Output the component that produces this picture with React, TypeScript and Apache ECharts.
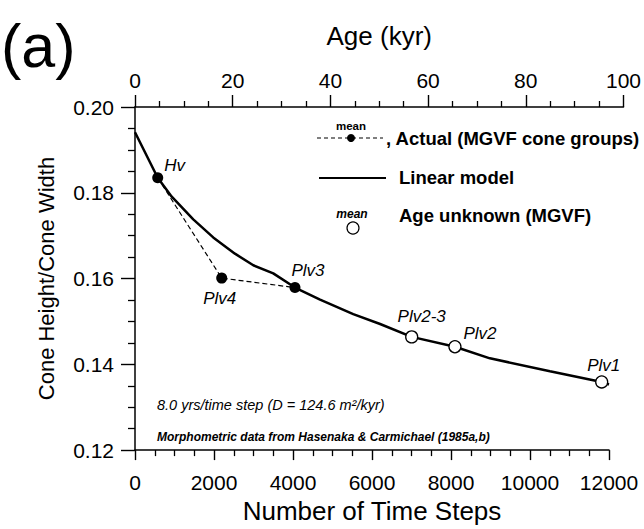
import React, { useEffect, useRef } from "react";
import * as echarts from "echarts";

const FONT = "'Liberation Sans', Arial, Helvetica, sans-serif";

// Linear model curve (number of time steps -> cone height / cone width)
const modelSteps = [0, 575, 930, 1475, 1980, 2530, 2995, 3500, 4050, 4685, 5525, 6205, 7005, 8100, 8985, 10505, 11815, 12000];
const modelValues = [0.1941, 0.1835, 0.1791, 0.1738, 0.1696, 0.1658, 0.1631, 0.1612, 0.1579, 0.1551, 0.1517, 0.1494, 0.1464, 0.1441, 0.1414, 0.1384, 0.1359, 0.1353];

// Actual (MGVF cone groups), mean values
const actualNames = ["Hv", "Plv4", "Plv3"];
const actualSteps = [575, 2195, 4050];
const actualValues = [0.1835, 0.1601, 0.1579];

// Age unknown (MGVF), mean values
const unknownNames = ["Plv2-3", "Plv2", "Plv1"];
const unknownSteps = [7005, 8100, 11815];
const unknownValues = [0.1464, 0.1441, 0.1359];

// Axes
const stepTicks = [0, 2000, 4000, 6000, 8000, 10000, 12000];
const ageTicks = [0, 20, 40, 60, 80, 100];
const ratioTicks = [0.12, 0.14, 0.16, 0.18, 0.2];

// label placement (pixel offsets from the symbol centre)
const labelOffsets: Record<string, [number, number]> = {
  Hv: [17, -12],
  Plv4: [-2, 20],
  Plv3: [13, -17],
  "Plv2-3": [10, -20],
  Plv2: [25, -13],
  Plv1: [2, -16],
};

const GRID_LEFT = 135;
const GRID_TOP = 107;
const GRID_W = 474;
const GRID_H = 350;
const STEPS_MAX = stepTicks[stepTicks.length - 1];
const AGE_MAX = ageTicks[ageTicks.length - 1];
const YRS_PER_STEP = 8.0;
const AGE_W = (GRID_W * (AGE_MAX * 1000)) / YRS_PER_STEP / STEPS_MAX;

const black = "#000";

function pointLabel(name: string) {
  return {
    show: true,
    position: "inside",
    formatter: name,
    offset: labelOffsets[name],
    fontSize: 17,
    fontStyle: "italic",
    fontFamily: FONT,
    color: black,
  };
}

export default function App() {
  const ref = useRef<HTMLDivElement>(null);

  useEffect(() => {
    if (!ref.current) return;
    const chart = echarts.init(ref.current, undefined, { renderer: "svg" });

    const axisLineStyle = { color: black, width: 1.5 };
    const plain = (v: number) => String(v);

    const option: any = {
      animation: false,
      backgroundColor: "#fff",
      textStyle: { fontFamily: FONT, color: black },
      grid: [
        { left: GRID_LEFT, top: GRID_TOP, width: GRID_W, height: GRID_H },
        { left: GRID_LEFT, top: GRID_TOP, width: AGE_W, height: GRID_H },
      ],
      xAxis: [
        {
          type: "value",
          gridIndex: 0,
          position: "bottom",
          min: stepTicks[0],
          max: STEPS_MAX,
          interval: stepTicks[1] - stepTicks[0],
          axisLine: { show: true, onZero: false, lineStyle: axisLineStyle },
          axisTick: { show: true, inside: false, length: 10, lineStyle: { color: black, width: 1.4 } },
          minorTick: { show: true, splitNumber: 4, length: 6, lineStyle: { color: black, width: 1.3 } },
          axisLabel: { margin: 22, fontSize: 21, color: black, fontFamily: FONT, formatter: plain },
          splitLine: { show: false },
          minorSplitLine: { show: false },
          name: "Number of Time Steps",
          nameLocation: "middle",
          nameGap: 47,
          nameTextStyle: { fontSize: 26, color: black, fontFamily: FONT },
        },
        {
          type: "value",
          gridIndex: 1,
          position: "top",
          min: ageTicks[0],
          max: AGE_MAX,
          interval: ageTicks[1] - ageTicks[0],
          axisLine: { show: true, onZero: false, lineStyle: axisLineStyle },
          axisTick: { show: true, inside: false, length: 12, lineStyle: { color: black, width: 1.4 } },
          minorTick: { show: true, splitNumber: 4, length: 6, lineStyle: { color: black, width: 1.3 } },
          axisLabel: { margin: 16, fontSize: 21, color: black, fontFamily: FONT, formatter: plain },
          splitLine: { show: false },
          minorSplitLine: { show: false },
          name: "Age (kyr)",
          nameLocation: "middle",
          nameGap: 58,
          nameTextStyle: { fontSize: 26, color: black, fontFamily: FONT },
        },
      ],
      yAxis: [
        {
          type: "value",
          gridIndex: 0,
          min: ratioTicks[0],
          max: ratioTicks[ratioTicks.length - 1],
          interval: 0.02,
          axisLine: { show: true, onZero: false, lineStyle: axisLineStyle },
          axisTick: { show: true, inside: false, length: 14, lineStyle: { color: black, width: 1.4 } },
          minorTick: { show: true, splitNumber: 4, length: 7, lineStyle: { color: black, width: 1.3 } },
          axisLabel: {
            margin: 21,
            fontSize: 21,
            color: black,
            fontFamily: FONT,
            formatter: (v: number) => v.toFixed(2),
          },
          splitLine: { show: false },
          minorSplitLine: { show: false },
          name: "Cone Height/Cone Width",
          nameLocation: "middle",
          nameGap: 78,
          nameRotate: 90,
          nameTextStyle: { fontSize: 22, color: black, fontFamily: FONT },
        },
        { type: "value", gridIndex: 1, min: 0, max: 1, show: false },
      ],
      series: [
        {
          name: "Linear model",
          type: "line",
          xAxisIndex: 0,
          yAxisIndex: 0,
          data: modelSteps.map((s, i) => [s, modelValues[i]]),
          symbol: "none",
          smooth: false,
          lineStyle: { color: black, width: 2.5 },
          z: 2,
        },
        {
          name: "Actual (MGVF cone groups)",
          type: "line",
          xAxisIndex: 0,
          yAxisIndex: 0,
          data: actualSteps.map((s, i) => ({
            value: [s, actualValues[i]],
            name: actualNames[i],
            label: pointLabel(actualNames[i]),
          })),
          symbol: "circle",
          symbolSize: 11,
          showAllSymbol: true,
          itemStyle: { color: black },
          lineStyle: { color: black, width: 1.2, type: [5, 3] },
          z: 3,
        },
        {
          name: "Age unknown (MGVF)",
          type: "scatter",
          xAxisIndex: 0,
          yAxisIndex: 0,
          data: unknownSteps.map((s, i) => ({
            value: [s, unknownValues[i]],
            name: unknownNames[i],
            label: pointLabel(unknownNames[i]),
          })),
          symbol: "circle",
          symbolSize: 12,
          itemStyle: { color: "#fff", borderColor: black, borderWidth: 1.3, opacity: 1 },
          z: 4,
        },
      ],
      graphic: [
        {
          type: "text",
          style: { text: "(a)", x: 1, y: 46, fontSize: 61, fontFamily: FONT, fill: black, align: "left", verticalAlign: "middle" },
        },
        // legend: actual
        {
          type: "text",
          style: { text: "mean", x: 351, y: 126, fontSize: 11.5, fontWeight: "bold", fontFamily: FONT, fill: black, align: "center", verticalAlign: "middle" },
        },
        {
          type: "line",
          shape: { x1: 317, y1: 138, x2: 383, y2: 138 },
          style: { stroke: black, lineWidth: 1.2, lineDash: [4, 3] },
        },
        { type: "circle", shape: { cx: 351, cy: 138, r: 4 }, style: { fill: black } },
        {
          type: "text",
          style: { text: ", Actual (MGVF cone groups)", x: 386, y: 138, fontSize: 18.5, fontWeight: "bold", fontFamily: FONT, fill: black, align: "left", verticalAlign: "middle" },
        },
        // legend: linear model
        {
          type: "line",
          shape: { x1: 319, y1: 178, x2: 386, y2: 178 },
          style: { stroke: black, lineWidth: 2.2 },
        },
        {
          type: "text",
          style: { text: "Linear model", x: 399, y: 177, fontSize: 18.5, fontWeight: "bold", fontFamily: FONT, fill: black, align: "left", verticalAlign: "middle" },
        },
        // legend: age unknown
        {
          type: "text",
          style: { text: "mean", x: 352, y: 214, fontSize: 12, fontWeight: "bold", fontStyle: "italic", fontFamily: FONT, fill: black, align: "center", verticalAlign: "middle" },
        },
        { type: "circle", shape: { cx: 353, cy: 228, r: 6 }, style: { fill: "#fff", stroke: black, lineWidth: 1.2 } },
        {
          type: "text",
          style: { text: "Age unknown (MGVF)", x: 399, y: 215, fontSize: 18.5, fontWeight: "bold", fontFamily: FONT, fill: black, align: "left", verticalAlign: "middle" },
        },
        // annotations
        {
          type: "text",
          style: { text: "8.0 yrs/time step (D = 124.6 m²/kyr)", x: 157, y: 405, fontSize: 14.5, fontStyle: "italic", fontFamily: FONT, fill: black, align: "left", verticalAlign: "middle" },
        },
        {
          type: "text",
          style: { text: "Morphometric data from Hasenaka & Carmichael (1985a,b)", x: 157, y: 437, fontSize: 12, fontStyle: "italic", fontWeight: "bold", fontFamily: FONT, fill: black, align: "left", verticalAlign: "middle" },
        },
      ],
    };

    chart.setOption(option);
    return () => chart.dispose();
  }, []);

  return (
    <div
      ref={ref}
      style={{ position: "absolute", left: 0, top: 0, width: 644, height: 529, background: "#fff" }}
    />
  );
}
